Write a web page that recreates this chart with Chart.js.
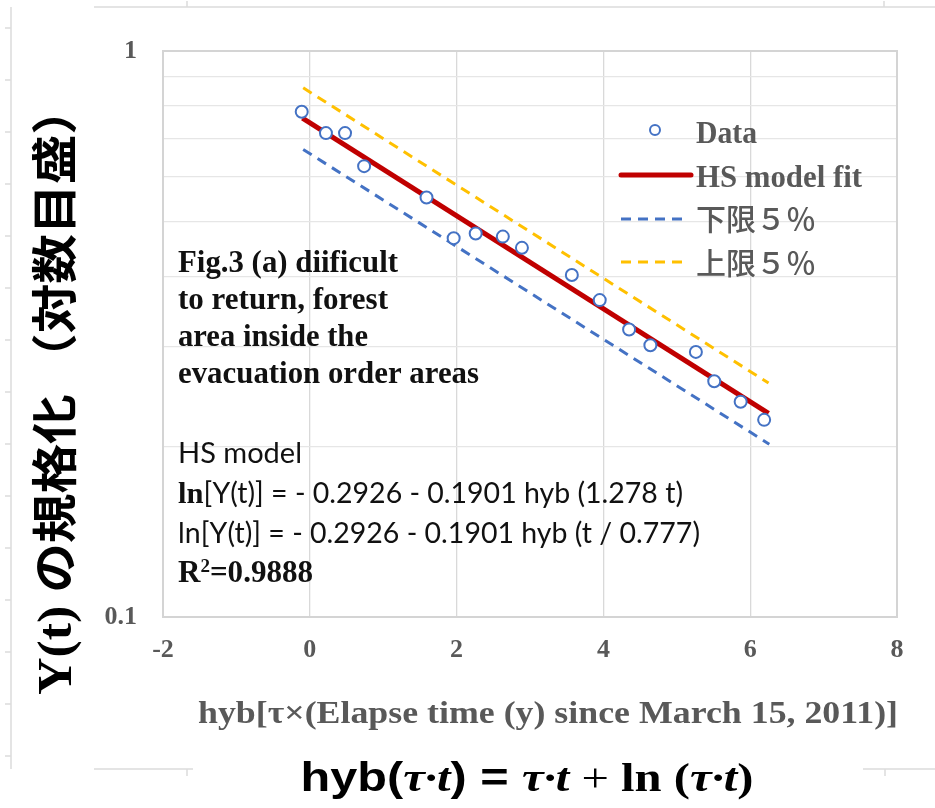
<!DOCTYPE html>
<html lang="ja">
<head>
  <meta charset="UTF-8" />
  <title>HS model fit - forest area</title>
  <script src="https://cdn.jsdelivr.net/npm/chart.js"></script>
  <style>
    html, body { margin: 0; padding: 0; background: #fff; }
    canvas { display: block; }
  </style>
</head>
<body>
<canvas id="hsChart" width="935" height="808"></canvas>
<script>
  // values
  const hybX = [-0.11, 0.22, 0.48, 0.74, 1.59, 1.96, 2.26, 2.63, 2.89, 3.57, 3.95, 4.35, 4.64, 5.26, 5.51, 5.87, 6.19];
  const yNorm = [0.781, 0.716, 0.716, 0.626, 0.551, 0.467, 0.476, 0.470, 0.449, 0.402, 0.363, 0.322, 0.302, 0.294, 0.261, 0.240, 0.223];

  const fitX = [-0.10, 6.25];
  const fitY = [0.761, 0.229];
  const lowX = [-0.09, 6.26];
  const lowY = [0.670, 0.202];
  const upX = [-0.09, 6.25];
  const upY = [0.861, 0.259];

  const seriesNames = ['Data', 'HS model fit', '下限５％', '上限５％'];
  const xTicks = [-2, 0, 2, 4, 6, 8];
  const yGrid = [0.1, 0.2, 0.3, 0.4, 0.5, 0.6, 0.7, 0.8, 0.9, 1];
  const yLabelled = [0.1, 1];

  const SERIF = "'Liberation Serif', 'Times New Roman', serif";
  const SANS = "Lato, 'Noto Sans', sans-serif";
  const CJK = "'Noto Sans CJK JP', 'Noto Sans', sans-serif";
  const GREY = '#595959';

  const pts = (xs, ys) => xs.map((x, i) => ({ x: x, y: ys[i] }));

  // draw several font runs on one line, optionally squeezed to a width
  function drawRuns(ctx, runs, x, y, targetW, align) {
    let total = 0;
    runs.forEach(r => { ctx.font = r.font; r.w = ctx.measureText(r.t).width; total += r.w; });
    const s = targetW ? targetW / total : 1;
    ctx.save();
    ctx.translate(x, y);
    ctx.scale(s, 1);
    let cx = align === 'center' ? -total / 2 : 0;
    ctx.textBaseline = 'alphabetic';
    ctx.textAlign = 'left';
    runs.forEach(r => {
      ctx.font = r.font;
      ctx.fillStyle = r.color || '#000';
      ctx.fillText(r.t, cx, r.rise ? -r.rise : 0);
      cx += r.w;
    });
    ctx.restore();
  }

  const pageDecor = {
    id: 'pageDecor',
    beforeDraw(chart) {
      const ctx = chart.ctx;
      ctx.save();
      ctx.fillStyle = '#fff';
      ctx.fillRect(0, 0, chart.width, chart.height);
      ctx.strokeStyle = '#dcdcdc';
      ctx.lineWidth = 1.5;
      ctx.beginPath();
      // top ruler line
      ctx.moveTo(94, 7); ctx.lineTo(935, 7);
      ctx.moveTo(187, 1); ctx.lineTo(187, 7);
      ctx.moveTo(884, 1); ctx.lineTo(884, 7);
      // left ruler line
      ctx.moveTo(11, 7); ctx.lineTo(11, 769);
      for (let k = 0; k <= 14; k++) {
        ctx.moveTo(5, 28 + 52 * k); ctx.lineTo(11, 28 + 52 * k);
      }
      // bottom pieces
      ctx.moveTo(94, 769); ctx.lineTo(193, 769);
      ctx.moveTo(187, 769); ctx.lineTo(187, 776);
      ctx.moveTo(863, 769); ctx.lineTo(935, 769);
      ctx.moveTo(885, 769); ctx.lineTo(885, 776);
      ctx.stroke();
      ctx.restore();
    },
    beforeDatasetsDraw(chart) {
      const a = chart.chartArea;
      const ctx = chart.ctx;
      ctx.save();
      ctx.strokeStyle = '#d4d4d4';
      ctx.lineWidth = 2;
      ctx.strokeRect(a.left, a.top, a.right - a.left, a.bottom - a.top);
      ctx.restore();
    },
    afterDraw(chart) {
      const ctx = chart.ctx;
      const ds = chart.data.datasets;

      // legend inside the plot
      ctx.save();
      ctx.beginPath();
      ctx.arc(655, 130, 5, 0, Math.PI * 2);
      ctx.fillStyle = '#fff';
      ctx.fill();
      ctx.lineWidth = 2;
      ctx.strokeStyle = ds[0].borderColor;
      ctx.stroke();
      const rows = [175, 219, 262];
      for (let i = 1; i <= 3; i++) {
        ctx.beginPath();
        ctx.setLineDash(ds[i].borderDash || []);
        ctx.lineCap = i === 1 ? 'round' : 'butt';
        ctx.lineWidth = ds[i].borderWidth;
        ctx.strokeStyle = ds[i].borderColor;
        ctx.moveTo(621, rows[i - 1]);
        ctx.lineTo(i === 1 ? 691 : 687, rows[i - 1]);
        ctx.stroke();
      }
      ctx.setLineDash([]);
      ctx.restore();
      drawRuns(ctx, [{ t: seriesNames[0], font: 'bold 31px ' + SERIF, color: GREY }], 696, 143, 61);
      drawRuns(ctx, [{ t: seriesNames[1], font: 'bold 31px ' + SERIF, color: GREY }], 696, 187, 166);
      drawRuns(ctx, [{ t: seriesNames[2], font: '500 30px ' + CJK, color: GREY }], 696, 230, 120);
      drawRuns(ctx, [{ t: seriesNames[3], font: '500 30px ' + CJK, color: GREY }], 696, 274, 120);

      // figure caption
      const cap = ['Fig.3 (a) diificult', 'to return, forest', 'area inside the', 'evacuation order areas'];
      const capW = [220, 210, 190, 301];
      cap.forEach((t, i) => {
        drawRuns(ctx, [{ t: t, font: 'bold 32px ' + SERIF, color: '#111' }], 178, 272 + 37 * i, capW[i]);
      });

      // model equations
      drawRuns(ctx, [{ t: 'HS model', font: '28px ' + SANS, color: '#111' }], 178, 463, 124);
      drawRuns(ctx, [
        { t: 'ln', font: 'bold 30px ' + SERIF, color: '#111' },
        { t: '[Y(t)] = - 0.2926 - 0.1901 hyb (1.278 t)', font: '28px ' + SANS, color: '#111' }
      ], 178, 503, 505);
      drawRuns(ctx, [{ t: 'ln[Y(t)] = - 0.2926 - 0.1901 hyb (t / 0.777)', font: '28px ' + SANS, color: '#111' }], 178, 543, 522);
      drawRuns(ctx, [
        { t: 'R', font: 'bold 31px ' + SERIF, color: '#111' },
        { t: '2', font: 'bold 19px ' + SERIF, color: '#111', rise: 10 },
        { t: '=0.9888', font: 'bold 31px ' + SERIF, color: '#111' }
      ], 178, 582, 135);

      // x axis title
      drawRuns(ctx, [{ t: 'hyb[τ×(Elapse time (y) since March 15, 2011)]', font: 'bold 32px ' + SERIF, color: GREY }], 548, 723, 700, 'center');

      // bottom formula
      drawRuns(ctx, [
        { t: 'hyb(', font: 'bold 40px "Liberation Sans", Arial, sans-serif' },
        { t: 'τ·t', font: 'bold italic 40px ' + SERIF },
        { t: ') = ', font: 'bold 40px "Liberation Sans", Arial, sans-serif' },
        { t: 'τ·t', font: 'bold italic 40px ' + SERIF },
        { t: ' + ', font: '40px ' + SERIF },
        { t: 'ln (', font: 'bold 40px ' + SERIF },
        { t: 'τ·t', font: 'bold italic 40px ' + SERIF },
        { t: ')', font: 'bold 40px ' + SERIF }
      ], 527, 791, 453, 'center');

      // y axis title, rotated
      ctx.save();
      ctx.translate(71, 390);
      ctx.rotate(-Math.PI / 2);
      drawRuns(ctx, [
        { t: 'Y(t) ', font: 'bold 48px ' + SERIF },
        { t: 'の規格化 （対数目盛）', font: 'bold 46px ' + CJK }
      ], 0, 0, 610, 'center');
      ctx.restore();
    }
  };

  const ctx = document.getElementById('hsChart').getContext('2d');
  new Chart(ctx, {
    type: 'scatter',
    data: {
      datasets: [
        {
          label: seriesNames[0],
          data: pts(hybX, yNorm),
          pointRadius: 6,
          pointBorderWidth: 2,
          borderColor: '#4472C4',
          backgroundColor: '#fff',
          pointBackgroundColor: '#fff',
          showLine: false
        },
        {
          label: seriesNames[1],
          data: pts(fitX, fitY),
          showLine: true,
          borderColor: '#C00000',
          borderWidth: 5,
          pointRadius: 0
        },
        {
          label: seriesNames[2],
          data: pts(lowX, lowY),
          showLine: true,
          borderColor: '#4472C4',
          borderWidth: 3,
          borderDash: [10, 7],
          pointRadius: 0
        },
        {
          label: seriesNames[3],
          data: pts(upX, upY),
          showLine: true,
          borderColor: '#FFC000',
          borderWidth: 3,
          borderDash: [10, 7],
          pointRadius: 0
        }
      ]
    },
    options: {
      responsive: false,
      animation: false,
      devicePixelRatio: 1,
      layout: { padding: { top: 51, right: 38, left: 0, bottom: 0 } },
      plugins: {
        legend: { display: false },
        tooltip: { enabled: false }
      },
      scales: {
        x: {
          type: 'linear',
          min: -2,
          max: 8,
          afterBuildTicks: s => { s.ticks = xTicks.map(v => ({ value: v })); },
          afterFit: s => { s.height = 191; },
          grid: { color: '#d9d9d9', lineWidth: 1.3, drawTicks: false },
          border: { display: false },
          ticks: {
            padding: 18,
            color: GREY,
            font: { family: SERIF, size: 26, weight: 'bold' },
            maxRotation: 0
          }
        },
        y: {
          type: 'logarithmic',
          min: 0.1,
          max: 1,
          afterBuildTicks: s => { s.ticks = yGrid.map(v => ({ value: v })); },
          afterFit: s => { s.width = 163; },
          grid: { color: '#e6e6e6', lineWidth: 1.3, drawTicks: false },
          border: { display: false },
          ticks: {
            padding: 26,
            autoSkip: false,
            color: GREY,
            font: { family: SERIF, size: 26, weight: 'bold' },
            callback: v => {
              const hit = yLabelled.find(t => Math.abs(t - v) < 1e-9);
              return hit === undefined ? '' : String(hit);
            }
          }
        }
      }
    },
    plugins: [pageDecor]
  });
</script>
</body>
</html>
